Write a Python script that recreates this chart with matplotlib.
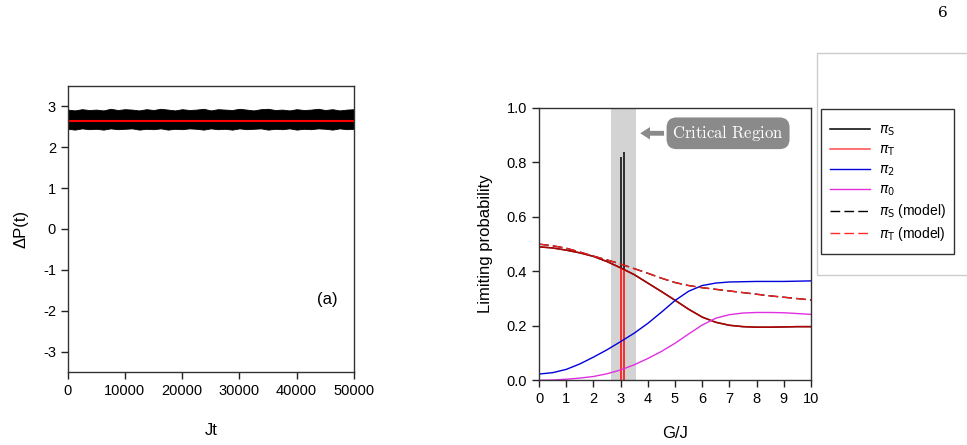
import numpy as np
import matplotlib
matplotlib.use("Agg")
import matplotlib.pyplot as plt
from matplotlib.patches import Rectangle

plt.rcParams["font.family"] = ["Liberation Sans", "DejaVu Sans"]
plt.rcParams["axes.unicode_minus"] = False

# Panel (a): envelope of the fluctuating signal and its mean
jt = [0, 1250, 2500, 3750, 5000, 6250, 7500, 8750, 10000, 11250, 12500, 13750, 15000,
      16250, 17500, 18750, 20000, 21250, 22500, 23750, 25000, 26250, 27500, 28750, 30000,
      31250, 32500, 33750, 35000, 36250, 37500, 38750, 40000, 41250, 42500, 43750, 45000,
      46250, 47500, 48750, 50000]
dp_upper = [2.92, 2.90, 2.93, 2.91, 2.92, 2.90, 2.94, 2.91, 2.93, 2.92, 2.90, 2.93, 2.91,
            2.94, 2.92, 2.90, 2.93, 2.91, 2.92, 2.94, 2.90, 2.93, 2.92, 2.91, 2.94,
            2.92, 2.90, 2.93, 2.94, 2.91, 2.92, 2.90, 2.93, 2.91, 2.92, 2.94, 2.91,
            2.93, 2.90, 2.92, 2.93]
dp_lower = [2.45, 2.43, 2.46, 2.44, 2.45, 2.43, 2.46, 2.44, 2.45, 2.46, 2.43, 2.45, 2.44,
            2.46, 2.43, 2.45, 2.44, 2.46, 2.45, 2.43, 2.46, 2.44, 2.45, 2.43, 2.46,
            2.44, 2.45, 2.46, 2.43, 2.45, 2.44, 2.46, 2.43, 2.45, 2.44, 2.46, 2.45,
            2.43, 2.46, 2.44, 2.45]
dp_mean = 2.63

# Panel (b): limiting probabilities vs G/J
gj = [0, 0.5, 1, 1.5, 2, 2.5, 3, 3.5, 4, 4.5, 5, 5.5, 6, 6.5, 7, 7.5, 8, 8.5, 9, 9.5, 10]
pi_st = [0.490, 0.486, 0.478, 0.468, 0.455, 0.436, 0.413, 0.388, 0.357, 0.326, 0.294,
         0.261, 0.232, 0.213, 0.202, 0.197, 0.195, 0.195, 0.196, 0.197, 0.197]
pi_model = [0.500, 0.494, 0.485, 0.471, 0.456, 0.442, 0.427, 0.410, 0.393, 0.375, 0.359,
            0.348, 0.340, 0.334, 0.328, 0.322, 0.316, 0.310, 0.305, 0.300, 0.295]
pi_2 = [0.023, 0.028, 0.040, 0.060, 0.085, 0.112, 0.142, 0.173, 0.209, 0.250, 0.293,
        0.327, 0.348, 0.357, 0.361, 0.362, 0.363, 0.363, 0.363, 0.364, 0.365]
pi_0 = [0.000, 0.001, 0.004, 0.008, 0.014, 0.024, 0.038, 0.057, 0.080, 0.106, 0.136,
        0.170, 0.203, 0.228, 0.241, 0.247, 0.249, 0.249, 0.248, 0.245, 0.242]
spike_x = [3.02, 3.12]
spike_base = [0.412, 0.405]
spike_s = [0.82, 0.84]
spike_t = [0.0, 0.0]
crit_lo, crit_hi = 2.65, 3.55

fig = plt.figure(figsize=(9.67, 4.45), dpi=100)

# ---- panel (a) ----
ax1 = fig.add_axes([0.070, 0.164, 0.296, 0.643])
ax1.fill_between(jt, dp_lower, dp_upper, color="black", lw=0.6, edgecolor="black")
ax1.axhline(dp_mean, color="red", lw=1.5)
ax1.set_xlim(0, 50000)
ax1.set_ylim(-3.5, 3.5)
ax1.set_xticks([0, 10000, 20000, 30000, 40000, 50000])
ax1.set_yticks([-3, -2, -1, 0, 1, 2, 3])
ax1.set_xlabel("Jt", fontsize=12, labelpad=18)
ax1.set_ylabel("ΔP(t)", fontsize=12, labelpad=10)
ax1.text(45300, -1.73, "(a)", fontsize=12, ha="center", va="center")

# ---- panel (b) ----
ax2 = fig.add_axes([0.5574, 0.1454, 0.2813, 0.612])
ax2.axvspan(crit_lo, crit_hi, color="#d3d3d3", lw=0, zorder=0)
ax2.plot(gj, pi_st, color="black", lw=1.1, label=r"$\pi_{\rm S}$")
ax2.vlines(spike_x, spike_base, spike_s, color="black", lw=1.1)
ax2.plot(gj, pi_st, color="red", lw=1.1, alpha=0.7, label=r"$\pi_{\rm T}$")
ax2.vlines(spike_x, spike_t, spike_base, color="red", lw=1.1)
ax2.plot(gj, pi_2, color="#0000dd", lw=1.0, label=r"$\pi_2$")
ax2.plot(gj, pi_0, color="#e030e0", lw=1.0, label=r"$\pi_0$")
ax2.plot(gj, pi_model, color="black", lw=1.0, ls=(0, (7, 3)), label=r"$\pi_{\rm S}$ (model)")
ax2.plot(gj, pi_model, color="#ff2020", lw=1.0, ls=(0, (7, 3)), alpha=0.95,
         label=r"$\pi_{\rm T}$ (model)")
ax2.set_xlim(0, 10)
ax2.set_ylim(0, 1.0)
ax2.set_xticks(range(0, 11))
ax2.set_yticks([0.0, 0.2, 0.4, 0.6, 0.8, 1.0])
ax2.set_xlabel("G/J", fontsize=12, labelpad=14)
ax2.set_ylabel("Limiting probability", fontsize=12, labelpad=10)

# critical region label and arrow
ax2.annotate("", xy=(3.62, 0.907), xytext=(4.7, 0.907),
             arrowprops=dict(arrowstyle="simple,head_width=0.9,head_length=0.7,tail_width=0.35",
                             color="#8a8a8a", lw=0))
ax2.text(6.95, 0.907, r"$\mathrm{Critical\ Region}$", math_fontfamily="cm",
         fontsize=12, color="white", ha="center", va="center",
         bbox=dict(boxstyle="round,pad=0.35,rounding_size=0.6", fc="#8a8a8a", ec="none"))

for ax in (ax1, ax2):
    ax.tick_params(direction="out", length=5, width=1, labelsize=10.5, colors="#222222",
                   labelcolor="black")
    for sp in ax.spines.values():
        sp.set_color("#333333")
        sp.set_linewidth(1.0)

# legend, its frame and the outer frame
handles, labels = ax2.get_legend_handles_labels()
fig.add_artist(Rectangle((0.845, 0.382), 0.2, 0.4996, transform=fig.transFigure,
                         fill=False, edgecolor="#cccccc", lw=1.0))
fig.add_artist(Rectangle((820.7 / 967, 1 - 254 / 445), 133.3 / 967, 145 / 445,
                         transform=fig.transFigure, fill=False, edgecolor="#333333", lw=1.0))
leg = fig.legend(handles, labels, loc="upper left", bbox_to_anchor=(830 / 967, 1 - 123 / 445),
                 fontsize=10, frameon=False, handlelength=2.9, handletextpad=0.6,
                 labelspacing=0.32, borderpad=0, borderaxespad=0)

fig.text(0.975, 0.97, "6", fontsize=11, family="DejaVu Serif", ha="center", va="center")

fig.savefig("out.png", dpi=100)
